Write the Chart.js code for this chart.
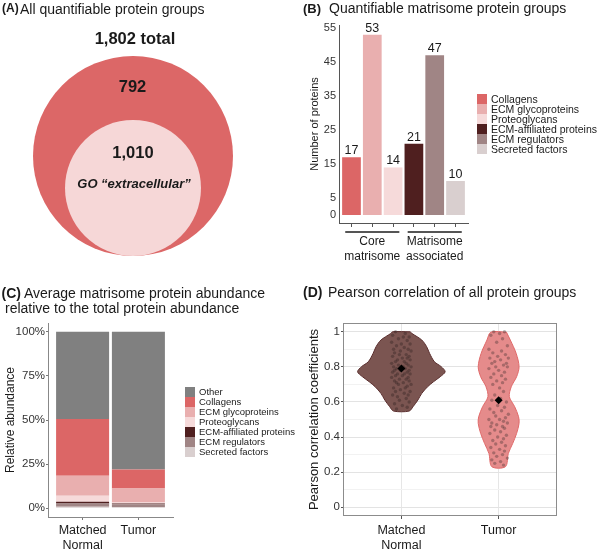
<!DOCTYPE html>
<html>
<head>
<meta charset="utf-8">
<script src="https://cdn.jsdelivr.net/npm/chart.js@4.4.0/dist/chart.umd.min.js"></script>
<style>
body { margin:0; background:#fff; font-family:"Liberation Sans", Arial, sans-serif; color:#1a1a1a; }
#page { position:relative; width:600px; height:550px; overflow:hidden; background:#fff; }
canvas { position:absolute; }
.t { position:absolute; white-space:nowrap; line-height:1; }
.c { transform:translateX(-50%); }
.legend { position:absolute; }
.legend .row { display:flex; align-items:center; height:10px; line-height:10px; white-space:nowrap; }
.legend .box { width:10px; height:10px; flex:none; }
</style>
</head>
<body>
<div id="page">
  <canvas id="chartA" width="300" height="270" style="left:0;top:0"></canvas>
  <canvas id="chartB" width="300" height="270" style="left:300px;top:0"></canvas>
  <canvas id="chartC" width="300" height="270" style="left:0;top:280px"></canvas>
  <canvas id="chartD" width="300" height="270" style="left:300px;top:280px"></canvas>

  <div class="t" style="left:2px;top:2px;font-size:12px;font-weight:bold">(A)</div>
  <div class="t" style="left:20px;top:1.6px;font-size:14px">All quantifiable protein groups</div>
  <div class="t" style="left:303px;top:1.5px;font-size:13px;font-weight:bold">(B)</div>
  <div class="t" style="left:329px;top:0.8px;font-size:14px">Quantifiable matrisome protein groups</div>
  <div class="t" style="left:1.5px;top:286.4px;font-size:14px;font-weight:bold">(C)</div>
  <div class="t" style="left:24px;top:286.4px;font-size:14px">Average matrisome protein abundance</div>
  <div class="t" style="left:5px;top:301.4px;font-size:14px">relative to the total protein abundance</div>
  <div class="t" style="left:303px;top:285.4px;font-size:14px;font-weight:bold">(D)</div>
  <div class="t" style="left:328px;top:285.4px;font-size:14px">Pearson correlation of all protein groups</div>

  <div id="vennTotal" class="t c" style="left:135px;top:30.3px;font-size:16.5px;font-weight:bold"></div>
  <div id="vennOuter" class="t c" style="left:132.5px;top:77.7px;font-size:16.5px;font-weight:bold"></div>
  <div id="vennInner" class="t c" style="left:133px;top:144.3px;font-size:16.5px;font-weight:bold"></div>
  <div id="vennInnerName" class="t c" style="left:134px;top:177px;font-size:13px;font-weight:bold;font-style:italic"></div>

  <div id="legendB" class="legend" style="left:477px;top:94px;font-size:10.5px"></div>
  <div id="legendC" class="legend" style="left:185px;top:386.7px;font-size:9.5px"></div>
</div>
<script>
// ---------- 데이터 ----------
// (A) 벤 다이어그램
const vennNames = ['total', 'GO \u201cextracellular\u201d'];
const vennCounts = [1802, 1010];

// (B) 매트리솜 단백질 그룹 수
const matrisomeCategories = ['Collagens', 'ECM glycoproteins', 'Proteoglycans', 'ECM-affiliated proteins', 'ECM regulators', 'Secreted factors'];
const matrisomeCounts = [17, 53, 14, 21, 47, 10];
const matrisomeGroups = [['Core', 'matrisome'], ['Matrisome', 'associated']];
const matrisomeGroupOf = [0, 0, 0, 1, 1, 1];
const countTicks = [0, 5, 15, 25, 35, 45, 55];

// (C) 상대 풍부도 (%), [Matched Normal, Tumor]
const sampleNames = [['Matched', 'Normal'], 'Tumor'];
const abundanceCategories = ['Other'].concat(matrisomeCategories);
const abundanceOther = [49.5, 78.0];
const abundanceCollagens = [32.1, 10.8];
const abundanceGlycoproteins = [11.4, 8.0];
const abundanceProteoglycans = [3.4, 0.6];
const abundanceAffiliated = [0.95, 0.3];
const abundanceRegulators = [1.9, 1.7];
const abundanceSecreted = [0.75, 0.6];
const percentTicks = [0, 25, 50, 75, 100];

// (D) 피어슨 상관계수
const corrTicks = [0, 0.1, 0.2, 0.3, 0.4, 0.5, 0.6, 0.7, 0.8, 0.9, 1.0];
const corrMeans = [0.79, 0.61];
const normalViolinY = [1.0, 0.99, 0.953, 0.915, 0.877, 0.829, 0.801, 0.772, 0.744, 0.715, 0.687, 0.649, 0.611, 0.573, 0.548];
const normalViolinWidth = [0.09, 0.11, 0.21, 0.26, 0.29, 0.34, 0.41, 0.45, 0.40, 0.33, 0.27, 0.21, 0.17, 0.12, 0.08];
const tumorViolinY = [0.998, 0.953, 0.877, 0.801, 0.744, 0.687, 0.63, 0.573, 0.516, 0.478, 0.421, 0.364, 0.307, 0.231];
const tumorViolinWidth = [0.08, 0.12, 0.18, 0.21, 0.185, 0.13, 0.11, 0.165, 0.205, 0.21, 0.185, 0.145, 0.10, 0.07];
// [x 흔들림, 값]
const normalJitter = [
  [-0.06, 1.00], [0.04, 0.99], [-0.09, 0.98], [0.02, 0.97], [0.08, 0.97], [-0.03, 0.96], [0.06, 0.95], [-0.10, 0.94],
  [0.00, 0.93], [0.09, 0.93], [-0.05, 0.92], [0.03, 0.91], [-0.08, 0.90], [0.07, 0.90], [-0.01, 0.89], [0.10, 0.89],
  [-0.07, 0.88], [0.05, 0.87], [-0.02, 0.87], [0.08, 0.86], [-0.09, 0.86], [0.01, 0.85], [0.06, 0.85], [-0.04, 0.84],
  [0.09, 0.84], [-0.06, 0.83], [0.03, 0.83], [-0.10, 0.82], [0.05, 0.82], [-0.03, 0.81], [0.07, 0.81], [-0.08, 0.80],
  [0.02, 0.80], [0.10, 0.80], [-0.05, 0.79], [0.04, 0.79], [-0.07, 0.78], [0.08, 0.78], [-0.01, 0.78], [0.06, 0.77],
  [-0.09, 0.77], [0.03, 0.76], [-0.04, 0.76], [0.09, 0.76], [-0.06, 0.75], [0.01, 0.75], [0.07, 0.74], [-0.10, 0.74],
  [0.05, 0.73], [-0.02, 0.73], [0.08, 0.72], [-0.07, 0.72], [0.02, 0.71], [-0.05, 0.71], [0.10, 0.70], [-0.03, 0.70],
  [0.06, 0.69], [-0.08, 0.68], [0.04, 0.68], [-0.01, 0.67], [0.09, 0.66], [-0.06, 0.66], [0.03, 0.65], [-0.09, 0.64],
  [0.07, 0.64], [-0.04, 0.63], [0.05, 0.62], [-0.02, 0.61], [0.08, 0.60], [-0.07, 0.59], [0.01, 0.58], [0.06, 0.57],
  [-0.05, 0.56]
];
const tumorJitter = [
  [-0.05, 1.00], [0.06, 1.00], [0.01, 0.99], [-0.08, 0.98], [0.04, 0.96], [-0.02, 0.94], [0.09, 0.92], [-0.10, 0.90],
  [0.03, 0.89], [-0.06, 0.88], [0.07, 0.87], [-0.01, 0.86], [0.10, 0.85], [-0.09, 0.85], [0.02, 0.84], [-0.04, 0.83],
  [0.08, 0.82], [-0.07, 0.82], [0.05, 0.81], [-0.03, 0.80], [0.09, 0.80], [-0.10, 0.79], [0.00, 0.78], [0.06, 0.77],
  [-0.05, 0.76], [0.03, 0.75], [-0.08, 0.74], [0.07, 0.73], [-0.02, 0.72], [0.04, 0.71], [-0.06, 0.70], [0.01, 0.68],
  [0.05, 0.66], [-0.04, 0.64], [0.02, 0.62], [-0.07, 0.61], [0.08, 0.60], [-0.01, 0.58], [0.06, 0.57], [-0.09, 0.56],
  [0.03, 0.55], [-0.05, 0.54], [0.10, 0.53], [-0.03, 0.52], [0.07, 0.51], [-0.10, 0.50], [0.01, 0.50], [0.05, 0.49],
  [-0.07, 0.48], [0.09, 0.48], [-0.02, 0.47], [0.04, 0.46], [-0.08, 0.46], [0.06, 0.45], [-0.04, 0.44], [0.02, 0.43],
  [-0.09, 0.42], [0.08, 0.41], [-0.01, 0.40], [0.05, 0.39], [-0.06, 0.38], [0.03, 0.37], [-0.03, 0.36], [0.07, 0.35],
  [-0.08, 0.34], [0.01, 0.33], [0.06, 0.32], [-0.05, 0.31], [0.04, 0.30], [-0.02, 0.29], [0.09, 0.28], [-0.07, 0.27],
  [0.02, 0.26], [-0.04, 0.25], [0.05, 0.24]
];

// ---------- 스타일 ----------
Chart.defaults.font.family = '"Liberation Sans", Arial, sans-serif';
Chart.defaults.color = '#333';
const FONT = '"Liberation Sans", Arial, sans-serif';
const matrisomeColors = ['#dc6666', '#e9afaf', '#f6dada', '#4f1f1f', '#a08585', '#d9cfcf'];
const abundanceColors = ['#808080'].concat(matrisomeColors);
const vennColors = ['#dc6767', '#f6d7d7'];
const INNER_RATIO = 0.68;
const baseOptions = { responsive: false, animation: false, events: [], plugins: { legend: { display: false }, tooltip: { enabled: false } } };

function fillLegend(id, names, colors) {
  const el = document.getElementById(id);
  names.forEach((name, i) => {
    const row = document.createElement('div');
    row.className = 'row';
    row.innerHTML = `<span class="box" style="background:${colors[i]}"></span><span style="margin-left:4px">${name}</span>`;
    el.appendChild(row);
  });
}

// ---------- (A) ----------
document.getElementById('vennTotal').textContent = vennCounts[0].toLocaleString('en-US') + ' ' + vennNames[0];
document.getElementById('vennOuter').textContent = (vennCounts[0] - vennCounts[1]).toLocaleString('en-US');
document.getElementById('vennInner').textContent = vennCounts[1].toLocaleString('en-US');
document.getElementById('vennInnerName').textContent = vennNames[1];

new Chart(document.getElementById('chartA'), {
  type: 'scatter',
  data: {
    datasets: [{
      data: vennCounts.map((c, i) => ({ x: 0, y: i === 0 ? 0 : -(1 - INNER_RATIO) })),
      pointRadius: ctx => ctx.chart.chartArea ? ctx.chart.chartArea.height / 2 * (ctx.dataIndex ? INNER_RATIO : 1) : 0,
      backgroundColor: vennColors,
      borderWidth: 0,
      clip: false
    }]
  },
  options: {
    ...baseOptions,
    layout: { padding: { left: 34, right: 68, top: 56, bottom: 14 } },
    scales: { x: { display: false, min: -1, max: 1 }, y: { display: false, min: -1, max: 1 } }
  }
});

// ---------- (B) ----------
const barValueLabels = {
  id: 'barValueLabels',
  afterDatasetsDraw(chart) {
    const ctx = chart.ctx;
    ctx.save();
    ctx.font = '12.5px ' + FONT;
    ctx.fillStyle = '#1a1a1a';
    ctx.textAlign = 'center';
    ctx.textBaseline = 'alphabetic';
    chart.getDatasetMeta(0).data.forEach((bar, i) => ctx.fillText(String(matrisomeCounts[i]), bar.x, bar.y - 3));
    ctx.restore();
  }
};
const groupAxis = {
  id: 'groupAxis',
  afterDraw(chart) {
    const ctx = chart.ctx, x = chart.scales.x, bottom = chart.chartArea.bottom;
    ctx.save();
    matrisomeGroups.forEach((lines, g) => {
      const idx = matrisomeGroupOf.map((v, i) => v === g ? i : -1).filter(i => i >= 0);
      const x0 = x.getPixelForValue(idx[0] - 0.3);
      const x1 = x.getPixelForValue(idx[idx.length - 1] + 0.3);
      ctx.fillStyle = '#555';
      ctx.fillRect(x0, bottom + 8, x1 - x0, 2);
      ctx.fillStyle = '#1a1a1a';
      ctx.font = '12px ' + FONT;
      ctx.textAlign = 'center';
      ctx.textBaseline = 'alphabetic';
      lines.forEach((s, k) => ctx.fillText(s, (x0 + x1) / 2, bottom + 22 + k * 15));
    });
    ctx.restore();
  }
};

new Chart(document.getElementById('chartB'), {
  type: 'bar',
  data: {
    datasets: [{
      data: matrisomeCounts.map((v, i) => ({ x: i, y: v })),
      backgroundColor: matrisomeColors,
      barPercentage: 0.9,
      categoryPercentage: 1
    }]
  },
  options: {
    ...baseOptions,
    layout: { padding: { left: 0, right: 132, top: 25, bottom: 0 } },
    scales: {
      x: {
        type: 'linear', min: -0.6, max: 5.6, offset: false,
        afterBuildTicks: s => { s.ticks = matrisomeCounts.map((v, i) => ({ value: i })); },
        afterFit: s => { s.height = 47; },
        ticks: { display: false },
        grid: { display: true, offset: false, drawOnChartArea: false, drawTicks: true, tickLength: 4, tickColor: '#555' },
        border: { display: true, color: '#555', width: 1 }
      },
      y: {
        min: -2.35, max: 55.9,
        afterBuildTicks: s => { s.ticks = countTicks.map(v => ({ value: v })); },
        afterFit: s => { s.width = 39; },
        ticks: { padding: 3, font: { size: 11 }, color: '#333' },
        grid: { display: false, drawTicks: false },
        border: { display: true, color: '#555', width: 1 },
        title: { display: true, text: 'Number of proteins', font: { size: 11 }, color: '#1a1a1a', padding: { top: 8, bottom: 0 } }
      }
    }
  },
  plugins: [barValueLabels, groupAxis]
});
fillLegend('legendB', matrisomeCategories, matrisomeColors);

// ---------- (C) ----------
const abundanceSeries = [abundanceOther, abundanceCollagens, abundanceGlycoproteins, abundanceProteoglycans, abundanceAffiliated, abundanceRegulators, abundanceSecreted];
new Chart(document.getElementById('chartC'), {
  type: 'bar',
  data: {
    datasets: abundanceCategories.map((name, k) => ({
      label: name,
      data: abundanceSeries[k].map((v, i) => ({ x: i + 1, y: v })),
      backgroundColor: abundanceColors[k],
      barPercentage: 0.95,
      categoryPercentage: 1
    })).reverse()
  },
  options: {
    ...baseOptions,
    layout: { padding: { left: 0, right: 127, top: 43, bottom: 0 } },
    scales: {
      x: {
        type: 'linear', min: 0.38, max: 2.62, offset: false, stacked: true,
        afterBuildTicks: s => { s.ticks = sampleNames.map((n, i) => ({ value: i + 1 })); },
        afterFit: s => { s.height = 33; },
        ticks: { callback: v => sampleNames[v - 1], autoSkip: false, maxRotation: 0, padding: 3, font: { size: 12.5, lineHeight: 1.2 }, color: '#1a1a1a' },
        grid: { display: true, offset: false, drawOnChartArea: false, tickLength: 3, tickColor: '#777' },
        border: { display: true, color: '#888', width: 1 }
      },
      y: {
        min: -5, max: 105, stacked: true,
        afterBuildTicks: s => { s.ticks = percentTicks.map(v => ({ value: v })); },
        afterFit: s => { s.width = 48; },
        ticks: { callback: v => v + '%', padding: 1, font: { size: 11.5 }, color: '#333' },
        grid: { display: true, drawOnChartArea: false, tickLength: 2, tickColor: '#777' },
        border: { display: true, color: '#888', width: 1 },
        title: { display: true, text: 'Relative abundance', font: { size: 12 }, color: '#1a1a1a', padding: { top: 3, bottom: 0 } }
      }
    }
  }
});
fillLegend('legendC', abundanceCategories, abundanceColors);

// ---------- (D) ----------
function violinOutline(center, ys, ws) {
  const right = ys.map((y, i) => ({ x: center + ws[i], y: y }));
  const left = ys.map((y, i) => ({ x: center - ws[i], y: y })).reverse();
  return right.concat(left, [right[0]]);
}
const panelBorder = {
  id: 'panelBorder',
  beforeDatasetsDraw(chart) {
    const { ctx, chartArea: a } = chart;
    ctx.save();
    ctx.strokeStyle = '#8c8c8c';
    ctx.lineWidth = 1;
    ctx.strokeRect(a.left + 0.5, a.top + 0.5, a.width - 1, a.height - 1);
    ctx.restore();
  }
};
const isMajor = v => Math.round(v * 10) % 2 === 0;

new Chart(document.getElementById('chartD'), {
  type: 'scatter',
  data: {
    datasets: [
      { data: corrMeans.map((m, i) => ({ x: i + 1, y: m })), pointStyle: 'rectRot', pointRadius: 4, backgroundColor: '#000', borderWidth: 0, order: 0 },
      { data: normalJitter.map(p => ({ x: 1 + p[0], y: p[1] })), pointRadius: 1.7, backgroundColor: 'rgba(35,25,25,0.33)', borderWidth: 0, order: 1 },
      { data: tumorJitter.map(p => ({ x: 2 + p[0], y: p[1] })), pointRadius: 1.7, backgroundColor: 'rgba(45,35,35,0.33)', borderWidth: 0, order: 1 },
      { data: violinOutline(1, normalViolinY, normalViolinWidth), showLine: true, pointRadius: 0, fill: 'shape', tension: 0.3,
        backgroundColor: '#7b5551', borderColor: '#5a2e2e', borderWidth: 1, order: 2 },
      { data: violinOutline(2, tumorViolinY, tumorViolinWidth), showLine: true, pointRadius: 0, fill: 'shape', tension: 0.3,
        backgroundColor: '#e58b8b', borderColor: '#e06a6a', borderWidth: 1, order: 2 }
    ]
  },
  options: {
    ...baseOptions,
    layout: { padding: { left: 0, right: 43, top: 43, bottom: 0 } },
    scales: {
      x: {
        type: 'linear', min: 0.4, max: 2.6,
        afterBuildTicks: s => { s.ticks = sampleNames.map((n, i) => ({ value: i + 1 })); },
        afterFit: s => { s.height = 34; },
        ticks: { callback: v => sampleNames[v - 1], autoSkip: false, maxRotation: 0, padding: 4, font: { size: 12.5, lineHeight: 1.2 }, color: '#1a1a1a' },
        grid: { color: '#e6e6e6', tickLength: 3, tickColor: '#555' },
        border: { display: false }
      },
      y: {
        min: -0.05, max: 1.05,
        afterBuildTicks: s => { s.ticks = corrTicks.map(v => ({ value: v })); },
        afterFit: s => { s.width = 43; },
        ticks: { callback: v => isMajor(v) ? String(Number(v.toFixed(1))) : '', padding: 1, font: { size: 11.5 }, color: '#333' },
        grid: {
          color: c => isMajor(c.tick.value) ? '#e3e3e3' : '#f2f2f2',
          tickColor: c => isMajor(c.tick.value) ? '#555' : 'rgba(0,0,0,0)',
          tickLength: 2
        },
        border: { display: false },
        title: { display: true, text: 'Pearson correlation coefficients', font: { size: 13 }, color: '#1a1a1a', padding: { top: 7, bottom: 0 } }
      }
    }
  },
  plugins: [panelBorder]
});
</script>
</body>
</html>
